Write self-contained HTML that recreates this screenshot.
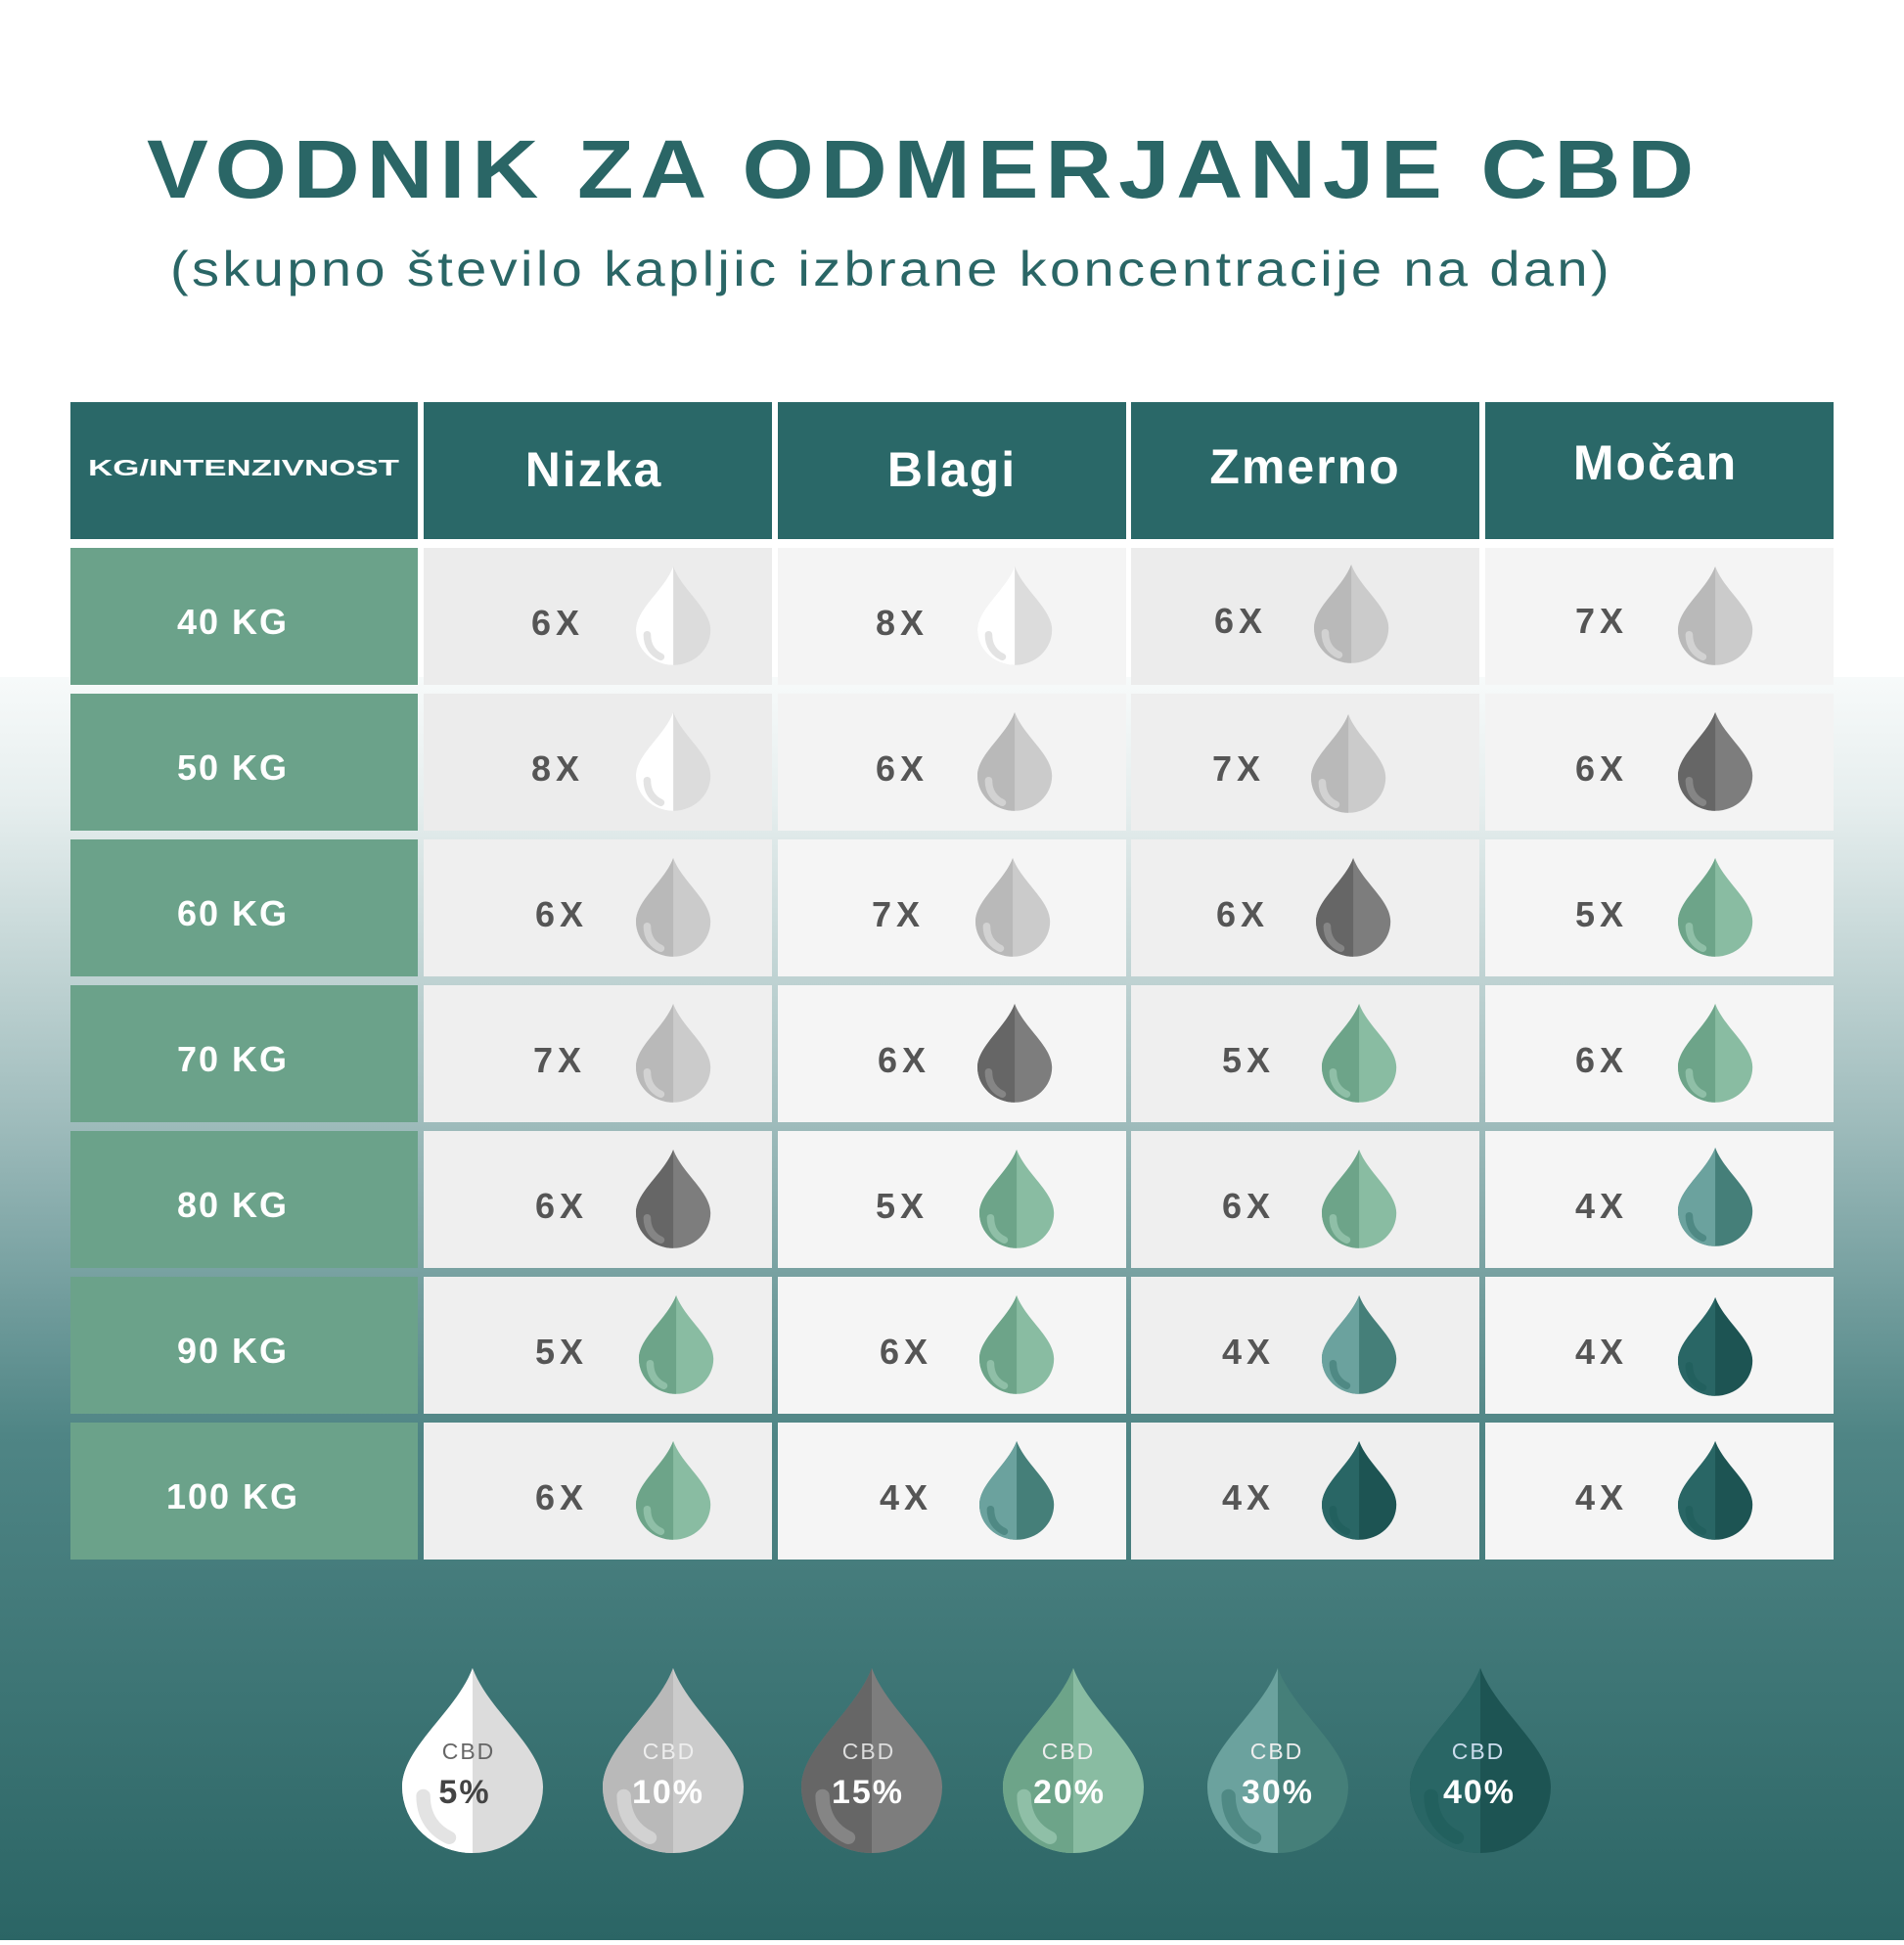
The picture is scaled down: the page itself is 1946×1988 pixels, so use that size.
<!DOCTYPE html>
<html><head><meta charset="utf-8"><style>
html,body{margin:0;padding:0}
body{width:1946px;height:1983px;overflow:hidden;font-family:"Liberation Sans",sans-serif}
</style></head><body>
<svg width="1946" height="1983" viewBox="0 0 1946 1983" xmlns="http://www.w3.org/2000/svg" font-family="Liberation Sans, sans-serif">
<defs>
<linearGradient id="bg" x1="0" y1="0" x2="0" y2="1">
<stop offset="0" stop-color="#f7fafa"/><stop offset="0.1" stop-color="#e6eeee"/><stop offset="0.35" stop-color="#9fbcbc"/><stop offset="0.6" stop-color="#4f8585"/><stop offset="1" stop-color="#2b6565"/>
</linearGradient>
<clipPath id="lh"><rect x="0" y="0" width="30" height="90"/></clipPath>
<path id="ds" d="M30 0 C37 20 60 36 60 54 A30 30 0 0 1 0 54 C0 36 23 20 30 0Z"/>
<g id="dw"><use href="#ds" fill="#dcdcdc"/><use href="#ds" fill="#ffffff" clip-path="url(#lh)"/><path d="M9 58 C9 68 14 74 20 77" stroke="#e3e3e3" stroke-width="6" fill="none" stroke-linecap="round"/></g>
<g id="dl"><use href="#ds" fill="#cbcbcb"/><use href="#ds" fill="#b9b9b9" clip-path="url(#lh)"/><path d="M9 58 C9 68 14 74 20 77" stroke="#d2d2d2" stroke-width="6" fill="none" stroke-linecap="round"/></g>
<g id="dd"><use href="#ds" fill="#7d7d7d"/><use href="#ds" fill="#666666" clip-path="url(#lh)"/><path d="M9 58 C9 68 14 74 20 77" stroke="#858585" stroke-width="6" fill="none" stroke-linecap="round"/></g>
<g id="dg"><use href="#ds" fill="#89bca2"/><use href="#ds" fill="#6da489" clip-path="url(#lh)"/><path d="M9 58 C9 68 14 74 20 77" stroke="#8fbfa7" stroke-width="6" fill="none" stroke-linecap="round"/></g>
<g id="dt"><use href="#ds" fill="#457f79"/><use href="#ds" fill="#6ba29e" clip-path="url(#lh)"/><path d="M9 58 C9 68 14 74 20 77" stroke="#4f8984" stroke-width="6" fill="none" stroke-linecap="round"/></g>
<g id="dx"><use href="#ds" fill="#1d5453"/><use href="#ds" fill="#296665" clip-path="url(#lh)"/><path d="M9 58 C9 68 14 74 20 77" stroke="#22605e" stroke-width="6" fill="none" stroke-linecap="round"/></g>
</defs>
<rect width="1946" height="1983" fill="#ffffff"/>
<rect y="692" width="1946" height="1291" fill="url(#bg)"/>
<text x="944" y="202" text-anchor="middle" font-size="84" font-weight="bold" fill="#2a6666" letter-spacing="6" textLength="1588" lengthAdjust="spacingAndGlyphs">VODNIK ZA ODMERJANJE CBD</text>
<text x="911" y="292" text-anchor="middle" font-size="50" fill="#2a6666" letter-spacing="3" textLength="1474" lengthAdjust="spacingAndGlyphs">(skupno število kapljic izbrane koncentracije na dan)</text>
<g fill="#2a6868">
<rect x="72" y="411" width="355" height="140"/><rect x="433" y="411" width="356" height="140"/><rect x="795" y="411" width="356" height="140"/><rect x="1156" y="411" width="356" height="140"/><rect x="1518" y="411" width="356" height="140"/>
</g>
<g fill="#fff" font-weight="bold" text-anchor="middle">
<text x="249" y="486" font-size="23" textLength="318" lengthAdjust="spacingAndGlyphs">KG/INTENZIVNOST</text>
<text x="607" y="497" font-size="50" letter-spacing="2">Nizka</text>
<text x="973" y="497" font-size="50" letter-spacing="2">Blagi</text>
<text x="1334" y="494" font-size="50" letter-spacing="2">Zmerno</text>
<text x="1692" y="490" font-size="50" letter-spacing="2">Močan</text>
</g>
<g fill="#6ba28a">
<rect x="72" y="560" width="355" height="140"/><rect x="72" y="709" width="355" height="140"/><rect x="72" y="858" width="355" height="140"/><rect x="72" y="1007" width="355" height="140"/><rect x="72" y="1156" width="355" height="140"/><rect x="72" y="1305" width="355" height="140"/><rect x="72" y="1454" width="355" height="140"/>
</g>
<g fill="#fff" font-weight="bold" text-anchor="middle" font-size="36" letter-spacing="2">
<text x="238" y="648">40 KG</text><text x="238" y="797">50 KG</text><text x="238" y="946">60 KG</text><text x="238" y="1095">70 KG</text><text x="238" y="1244">80 KG</text><text x="238" y="1393">90 KG</text><text x="238" y="1542">100 KG</text>
</g>
<g>
<rect x="433" y="560" width="356" height="140" fill="#ececec"/><rect x="795" y="560" width="356" height="140" fill="#f4f4f4"/><rect x="1156" y="560" width="356" height="140" fill="#ececec"/><rect x="1518" y="560" width="356" height="140" fill="#f4f4f4"/>
<rect x="433" y="709" width="356" height="140" fill="#ececec"/><rect x="795" y="709" width="356" height="140" fill="#f3f3f3"/><rect x="1156" y="709" width="356" height="140" fill="#eeeeee"/><rect x="1518" y="709" width="356" height="140" fill="#f3f3f3"/>
<rect x="433" y="858" width="356" height="140" fill="#efefef"/><rect x="795" y="858" width="356" height="140" fill="#f5f5f5"/><rect x="1156" y="858" width="356" height="140" fill="#efefef"/><rect x="1518" y="858" width="356" height="140" fill="#f5f5f5"/>
<rect x="433" y="1007" width="356" height="140" fill="#efefef"/><rect x="795" y="1007" width="356" height="140" fill="#f5f5f5"/><rect x="1156" y="1007" width="356" height="140" fill="#efefef"/><rect x="1518" y="1007" width="356" height="140" fill="#f5f5f5"/>
<rect x="433" y="1156" width="356" height="140" fill="#efefef"/><rect x="795" y="1156" width="356" height="140" fill="#f5f5f5"/><rect x="1156" y="1156" width="356" height="140" fill="#efefef"/><rect x="1518" y="1156" width="356" height="140" fill="#f5f5f5"/>
<rect x="433" y="1305" width="356" height="140" fill="#efefef"/><rect x="795" y="1305" width="356" height="140" fill="#f5f5f5"/><rect x="1156" y="1305" width="356" height="140" fill="#efefef"/><rect x="1518" y="1305" width="356" height="140" fill="#f5f5f5"/>
<rect x="433" y="1454" width="356" height="140" fill="#efefef"/><rect x="795" y="1454" width="356" height="140" fill="#f5f5f5"/><rect x="1156" y="1454" width="356" height="140" fill="#efefef"/><rect x="1518" y="1454" width="356" height="140" fill="#f5f5f5"/>
</g>
<g fill="#555" font-weight="bold" text-anchor="middle" font-size="36" letter-spacing="5">
<text x="570" y="649">6X</text><text x="922" y="649">8X</text><text x="1268" y="647">6X</text><text x="1637" y="647">7X</text>
<text x="570" y="798">8X</text><text x="922" y="798">6X</text><text x="1266" y="798">7X</text><text x="1637" y="798">6X</text>
<text x="574" y="947">6X</text><text x="918" y="947">7X</text><text x="1270" y="947">6X</text><text x="1637" y="947">5X</text>
<text x="572" y="1096">7X</text><text x="924" y="1096">6X</text><text x="1276" y="1096">5X</text><text x="1637" y="1096">6X</text>
<text x="574" y="1245">6X</text><text x="922" y="1245">5X</text><text x="1276" y="1245">6X</text><text x="1637" y="1245">4X</text>
<text x="574" y="1394">5X</text><text x="926" y="1394">6X</text><text x="1276" y="1394">4X</text><text x="1637" y="1394">4X</text>
<text x="574" y="1543">6X</text><text x="926" y="1543">4X</text><text x="1276" y="1543">4X</text><text x="1637" y="1543">4X</text>
</g>
<g>
<use href="#dw" transform="translate(650,579) scale(1.27,1.2)"/><use href="#dw" transform="translate(999,579) scale(1.27,1.2)"/><use href="#dl" transform="translate(1343,577) scale(1.27,1.2)"/><use href="#dl" transform="translate(1715,579) scale(1.27,1.2)"/>
<use href="#dw" transform="translate(650,728) scale(1.27,1.2)"/><use href="#dl" transform="translate(999,728) scale(1.27,1.2)"/><use href="#dl" transform="translate(1340,730) scale(1.27,1.2)"/><use href="#dd" transform="translate(1715,728) scale(1.27,1.2)"/>
<use href="#dl" transform="translate(650,877) scale(1.27,1.2)"/><use href="#dl" transform="translate(997,877) scale(1.27,1.2)"/><use href="#dd" transform="translate(1345,877) scale(1.27,1.2)"/><use href="#dg" transform="translate(1715,877) scale(1.27,1.2)"/>
<use href="#dl" transform="translate(650,1026) scale(1.27,1.2)"/><use href="#dd" transform="translate(999,1026) scale(1.27,1.2)"/><use href="#dg" transform="translate(1351,1026) scale(1.27,1.2)"/><use href="#dg" transform="translate(1715,1026) scale(1.27,1.2)"/>
<use href="#dd" transform="translate(650,1175) scale(1.27,1.2)"/><use href="#dg" transform="translate(1001,1175) scale(1.27,1.2)"/><use href="#dg" transform="translate(1351,1175) scale(1.27,1.2)"/><use href="#dt" transform="translate(1715,1173) scale(1.27,1.2)"/>
<use href="#dg" transform="translate(653,1324) scale(1.27,1.2)"/><use href="#dg" transform="translate(1001,1324) scale(1.27,1.2)"/><use href="#dt" transform="translate(1351,1324) scale(1.27,1.2)"/><use href="#dx" transform="translate(1715,1326) scale(1.27,1.2)"/>
<use href="#dg" transform="translate(650,1473) scale(1.27,1.2)"/><use href="#dt" transform="translate(1001,1473) scale(1.27,1.2)"/><use href="#dx" transform="translate(1351,1473) scale(1.27,1.2)"/><use href="#dx" transform="translate(1715,1473) scale(1.27,1.2)"/>
</g>
<g>
<use href="#dw" transform="translate(411,1705) scale(2.4,2.25)"/>
<use href="#dl" transform="translate(616,1705) scale(2.4,2.25)"/>
<use href="#dd" transform="translate(819,1705) scale(2.4,2.25)"/>
<use href="#dg" transform="translate(1025,1705) scale(2.4,2.25)"/>
<use href="#dt" transform="translate(1234,1705) scale(2.4,2.25)"/>
<use href="#dx" transform="translate(1441,1705) scale(2.4,2.25)"/>
</g>
<g text-anchor="middle" font-size="23" letter-spacing="2">
<text x="479" y="1798" fill="#666">CBD</text><text x="684" y="1798" fill="#eee">CBD</text><text x="888" y="1798" fill="#ddd">CBD</text><text x="1092" y="1798" fill="#eee">CBD</text><text x="1305" y="1798" fill="#eee">CBD</text><text x="1511" y="1798" fill="#cde">CBD</text>
</g>
<g text-anchor="middle" font-size="34" font-weight="bold" letter-spacing="2">
<text x="475" y="1843" fill="#444">5%</text><text x="683" y="1843" fill="#fff">10%</text><text x="887" y="1843" fill="#fff">15%</text><text x="1093" y="1843" fill="#fff">20%</text><text x="1306" y="1843" fill="#fff">30%</text><text x="1512" y="1843" fill="#fff">40%</text>
</g>
</svg>
</body></html>
